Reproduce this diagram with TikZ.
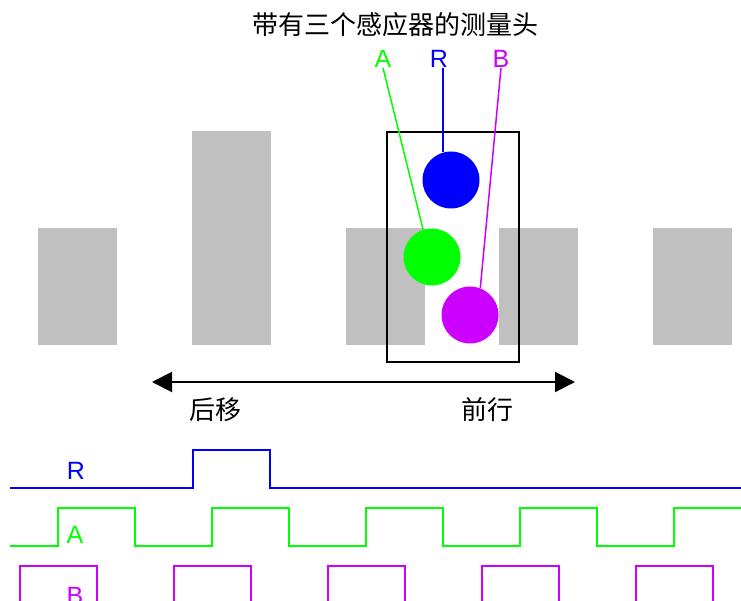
\documentclass[tikz,border=0pt]{standalone}
\usepackage{fontspec}
\setmainfont{Liberation Sans}
\newfontfamily\cjk{Noto Sans CJK SC}
\usetikzlibrary{arrows.meta}
\definecolor{gbar}{RGB}{192,192,192}
\definecolor{pB}{RGB}{204,0,255}

\begin{document}
\begin{tikzpicture}[x=1pt,y=-1pt,
bar/.style={fill=gbar, draw=none},
sensor/.style={circle, minimum size=57pt, inner sep=0pt},
lbl/.style={font=\fontsize{25}{30}\selectfont, inner sep=0pt},
cjklbl/.style={font=\cjk\fontsize{26}{30}\selectfont, inner sep=0pt},
sig/.style={line width=2pt}]
\useasboundingbox (0,0) rectangle (741,601);
\foreach \x in {38,346,499,653}
	\fill[gbar] (\x,228) rectangle ++(79,117);
\fill[gbar] (192,131) rectangle (271,345);
\node[draw, line width=1.5pt, minimum width=132pt, minimum height=230pt, inner sep=0pt] (head) at (453,247) {};
\node[sensor, fill=blue] (senR) at (451,180) {};
\node[sensor, fill=green] (senA) at (432,257) {};
\node[sensor, fill=pB] (senB) at (470,315) {};
\node[cjklbl] (title) at (395,25) {带有三个感应器的测量头};
\node[lbl, text=green] (lblA) at (383,59) {A};
\node[lbl, text=blue] (lblR) at (439,59) {R};
\node[lbl, text=pB] (lblB) at (501,59) {B};
\draw[blue, line width=1.5pt] (senR.106) -- (senR.106 |- lblR.south);
\draw[green, line width=1.5pt] (lblA.south) -- (senA.108);
\draw[pB, line width=1.5pt] (lblB.south) -- (senB.69);
\coordinate (back) at (152,382);
\coordinate (fwd) at (575,382);
\draw[line width=2pt, {Triangle[length=20pt,width=20pt]}-{Triangle[length=20pt,width=20pt]}] (back) -- (fwd);
\node[cjklbl] (lblBack) at (215,410) {后移};
\node[cjklbl] (lblFwd) at (487,410) {前行};
\node[lbl, text=blue] (sigR) at (76,471) {R};
\node[lbl, text=green] (sigA) at (75,535) {A};
\node[lbl, text=pB] (sigB) at (75,596) {B};
\draw[sig, blue] (10,488) -- (193,488) |- (270,450) |- (741,488);
\draw[sig, green] (10,546) \foreach \k in {0,...,3}{
	-- ({58+154*\k},546) |- ({135+154*\k},508) |- ({212+154*\k},546)}
	-- (674,546) |- (741,508);
\begin{scope}
\clip (0,0) rectangle (741,601);
\draw[sig, pB] (10,606) \foreach \k in {0,...,4}{
	-- ({20+154*\k},606) |- ({97+154*\k},566) |- ({174+154*\k},606)}
	-- (741,606);
\end{scope}
\end{tikzpicture}
\end{document}
